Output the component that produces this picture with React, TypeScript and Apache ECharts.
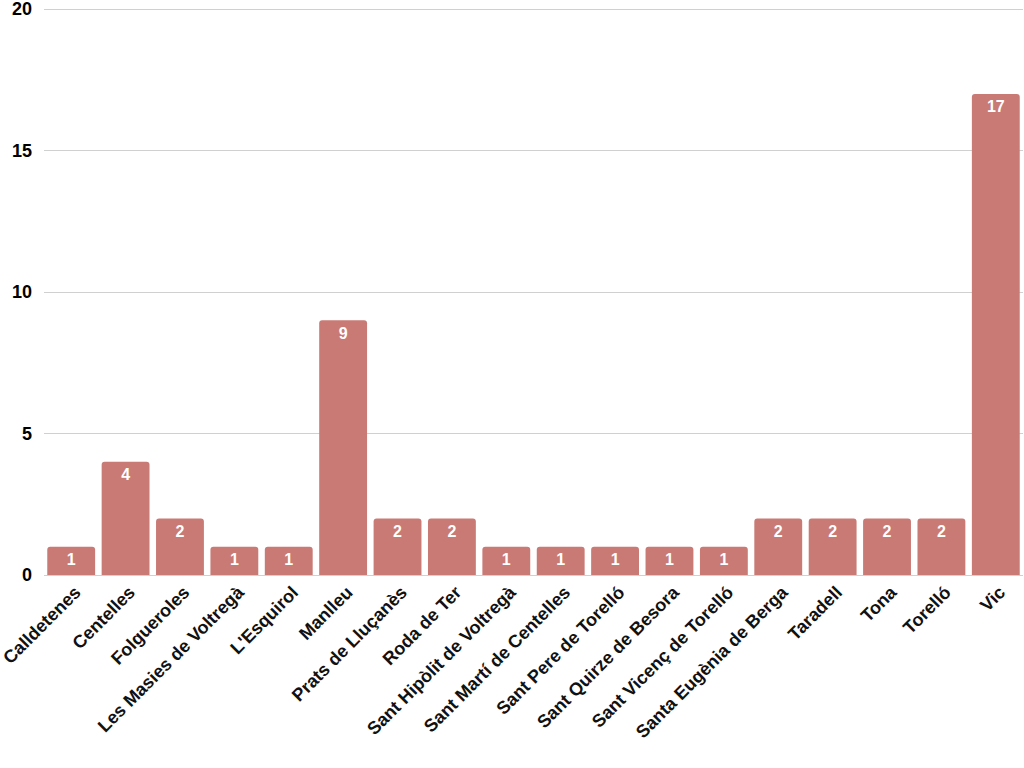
import React, { useEffect, useRef } from "react";
import * as echarts from "echarts";

const categories = [
  "Calldetenes", "Centelles", "Folgueroles", "Les Masies de Voltregà", "L'Esquirol",
  "Manlleu", "Prats de Lluçanès", "Roda de Ter", "Sant Hipòlit de Voltregà",
  "Sant Martí de Centelles", "Sant Pere de Torelló", "Sant Quirze de Besora",
  "Sant Vicenç de Torelló", "Santa Eugènia de Berga", "Taradell", "Tona", "Torelló", "Vic",
];
const values = [1, 4, 2, 1, 1, 9, 2, 2, 1, 1, 1, 1, 1, 2, 2, 2, 2, 17];
const yTicks = [0, 5, 10, 15, 20];

export default function App() {
  const ref = useRef<HTMLDivElement>(null);
  useEffect(() => {
    if (!ref.current) return;
    const chart = echarts.init(ref.current, null, { renderer: "svg" });
    chart.setOption({
      animation: false,
      grid: { left: 44, right: 1, top: 9, bottom: 193, containLabel: false, outerBoundsMode: "none" },
      xAxis: {
        type: "category",
        data: categories,
        axisLine: { show: false },
        axisTick: { show: false },
        axisLabel: {
          rotate: 45,
          interval: 0,
          margin: 8,
          verticalAlign: "top",
          color: "#111",
          fontFamily: "Liberation Sans, Arial, sans-serif",
          fontWeight: "bold",
          fontSize: 18,
        },
      },
      yAxis: {
        type: "value",
        min: yTicks[0],
        max: yTicks[yTicks.length - 1],
        interval: 5,
        axisLine: { show: false },
        axisTick: { show: false },
        splitLine: { lineStyle: { color: "#d0d0d0", width: 1 } },
        axisLabel: {
          margin: 12,
          color: "#000",
          fontFamily: "Liberation Sans, Arial, sans-serif",
          fontWeight: "bold",
          fontSize: 18,
        },
      },
      series: [
        {
          type: "bar",
          data: values,
          barCategoryGap: "12%",
          itemStyle: { color: "#c97a75", borderRadius: [3, 3, 0, 0] },
          label: {
            show: true,
            position: "insideTop",
            distance: 5,
            color: "#fff",
            fontFamily: "Liberation Sans, Arial, sans-serif",
            fontWeight: "bold",
            fontSize: 16,
          },
        },
      ],
    });
    return () => chart.dispose();
  }, []);
  return (
    <div
      ref={ref}
      style={{ position: "fixed", left: 0, top: 0, width: 1024, height: 768, background: "#fff" }}
    />
  );
}
